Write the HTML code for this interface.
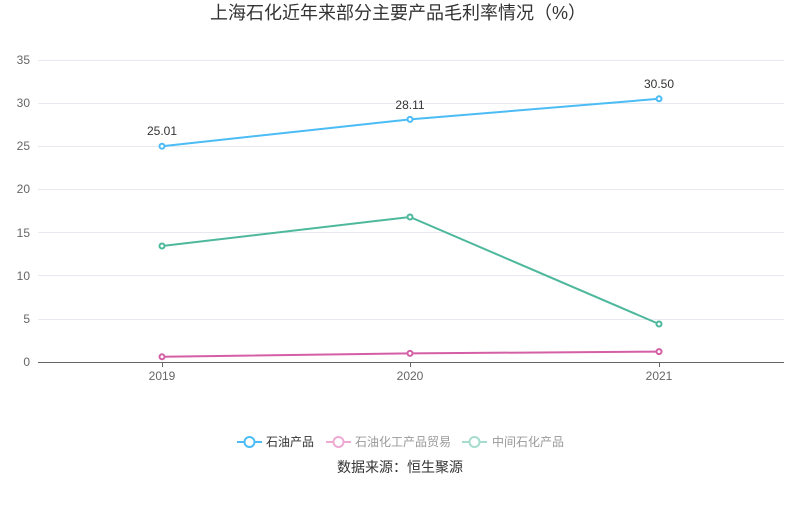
<!DOCTYPE html>
<html><head><meta charset="utf-8"><style>
body{margin:0;background:#fff;}
svg text{font-family:"Liberation Sans","Noto Sans CJK SC",sans-serif;}
</style></head><body>
<svg width="800" height="501" xmlns="http://www.w3.org/2000/svg">
<text x="398" y="19" text-anchor="middle" font-size="18" fill="#333">上海石化近年来部分主要产品毛利率情况（%）</text>
<g stroke="#e6e9ef" stroke-width="1">
<line x1="38" y1="60.5" x2="784" y2="60.5"/><line x1="38" y1="103.5" x2="784" y2="103.5"/>
<line x1="38" y1="146.5" x2="784" y2="146.5"/><line x1="38" y1="189.5" x2="784" y2="189.5"/>
<line x1="38" y1="232.5" x2="784" y2="232.5"/><line x1="38" y1="275.5" x2="784" y2="275.5"/>
<line x1="38" y1="319.5" x2="784" y2="319.5"/>
</g>
<line x1="38" y1="362.5" x2="784" y2="362.5" stroke="#666"/>
<g stroke="#666"><line x1="162.5" y1="362" x2="162.5" y2="367"/><line x1="410.5" y1="362" x2="410.5" y2="367"/><line x1="659.5" y1="362" x2="659.5" y2="367"/></g>
<g font-size="12" fill="#666" text-anchor="end">
<text x="30" y="64">35</text><text x="30" y="107">30</text><text x="30" y="150">25</text><text x="30" y="193">20</text>
<text x="30" y="237">15</text><text x="30" y="280">10</text><text x="30" y="323">5</text><text x="30" y="366">0</text>
</g>
<g font-size="12" fill="#666" text-anchor="middle">
<text x="162" y="380">2019</text><text x="410" y="380">2020</text><text x="659" y="380">2021</text>
</g>
<g fill="#fff" stroke-width="2">
<polyline points="162,146.2 410,119.4 659,98.8" fill="none" stroke="#4bbcf5"/>
<polyline points="162,356.8 410,353.4 659,351.6" fill="none" stroke="#d45fa6"/>
<polyline points="162,246 410,217 659,324" fill="none" stroke="#4db89c"/>
<g stroke="#4bbcf5"><circle cx="162" cy="146.2" r="2.5"/><circle cx="410" cy="119.4" r="2.5"/><circle cx="659" cy="98.8" r="2.5"/></g>
<g stroke="#d45fa6"><circle cx="162" cy="356.8" r="2.5"/><circle cx="410" cy="353.4" r="2.5"/><circle cx="659" cy="351.6" r="2.5"/></g>
<g stroke="#4db89c"><circle cx="162" cy="246" r="2.5"/><circle cx="410" cy="217" r="2.5"/><circle cx="659" cy="324" r="2.5"/></g>
</g>
<g font-size="12" fill="#333" text-anchor="middle">
<text x="162" y="135">25.01</text><text x="410" y="109">28.11</text><text x="659" y="88">30.50</text>
</g>
<g font-size="12">
<line x1="237" y1="442" x2="262" y2="442" stroke="#4bbcf5" stroke-width="2"/><circle cx="249.5" cy="442" r="5" fill="#fff" stroke="#4bbcf5" stroke-width="2"/>
<text x="266" y="446" fill="#333">石油产品</text>
<line x1="326" y1="442" x2="351" y2="442" stroke="#eeaad3" stroke-width="2"/><circle cx="338.5" cy="442" r="5" fill="#fff" stroke="#eeaad3" stroke-width="2"/>
<text x="355" y="446" fill="#999">石油化工产品贸易</text>
<line x1="462" y1="442" x2="487" y2="442" stroke="#a6dccd" stroke-width="2"/><circle cx="474.5" cy="442" r="5" fill="#fff" stroke="#a6dccd" stroke-width="2"/>
<text x="492" y="446" fill="#999">中间石化产品</text>
</g>
<text x="400" y="472" text-anchor="middle" font-size="14" fill="#333">数据来源：恒生聚源</text>
</svg>
</body></html>
